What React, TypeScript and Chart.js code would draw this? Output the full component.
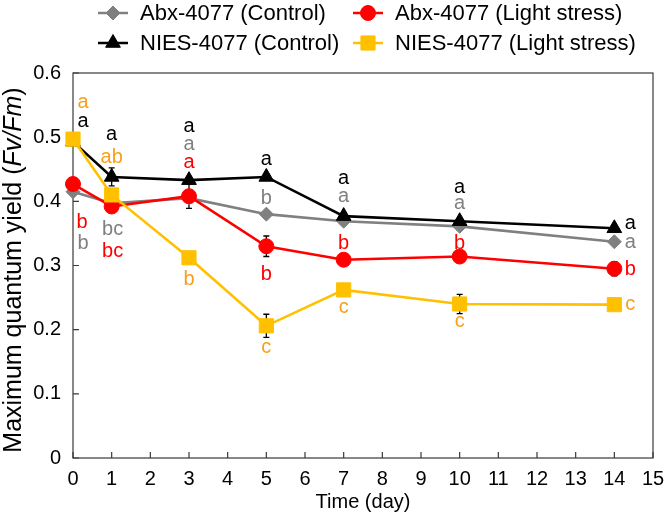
import React, { useEffect, useRef } from "react";
import { Chart, registerables } from "chart.js";

Chart.register(...registerables);

// ---- data ----
const DAYS = [0, 1, 3, 5, 7, 10, 14];
const X_TICKS = [0, 1, 2, 3, 4, 5, 6, 7, 8, 9, 10, 11, 12, 13, 14, 15];
const Y_TICKS = [0, 0.1, 0.2, 0.3, 0.4, 0.5, 0.6];

const ABX_CONTROL = [0.415, 0.397, 0.405, 0.38, 0.369, 0.361, 0.337];
const ABX_LIGHT = [0.427, 0.392, 0.408, 0.33, 0.309, 0.314, 0.295];
const NIES_CONTROL = [0.493, 0.438, 0.433, 0.438, 0.377, 0.369, 0.358];
const NIES_LIGHT = [0.497, 0.41, 0.312, 0.206, 0.262, 0.24, 0.239];

const ABX_CONTROL_ERR = [0.004, 0.005, 0.006, 0.004, 0.004, 0.004, 0.004];
const ABX_LIGHT_ERR = [0.005, 0.006, 0.019, 0.016, 0.005, 0.006, 0.011];
const NIES_CONTROL_ERR = [0.004, 0.014, 0.005, 0.004, 0.004, 0.004, 0.004];
const NIES_LIGHT_ERR = [0.005, 0.008, 0.006, 0.018, 0.005, 0.015, 0.005];

const ABX_CONTROL_LETTERS = ["b", "bc", "a", "b", "a", "a", "a"];
const ABX_LIGHT_LETTERS = ["b", "bc", "a", "b", "b", "b", "b"];
const NIES_CONTROL_LETTERS = ["a", "a", "a", "a", "a", "a", "a"];
const NIES_LIGHT_LETTERS = ["a", "ab", "b", "c", "c", "c", "c"];

const SERIES_NAMES = [
  "Abx-4077 (Control)",
  "Abx-4077 (Light stress)",
  "NIES-4077 (Control)",
  "NIES-4077 (Light stress)",
];

// ---- styling / placement (pixels) ----
const FONT = "'Liberation Sans', Arial, Helvetica, sans-serif";
const TICK_FONT_SIZE = 20;
const LETTER_FONT_SIZE = 20;
const LEGEND_FONT_SIZE = 22;
const X_TITLE_FONT_SIZE = 20;
const Y_TITLE_FONT_SIZE = 25;

const STYLES = [
  { color: "#808080", letterColor: "#808080", point: "rectRot", radius: 7 },
  { color: "#ff0000", letterColor: "#ff0000", point: "circle", radius: 7.5 },
  { color: "#000000", letterColor: "#000000", point: "triangle", radius: 8.5 },
  { color: "#ffc000", letterColor: "#f9a01b", point: "rect", radius: 10 },
];

// letter offsets [dx, dy] relative to each point, in pixels
const LETTER_OFFSETS = [
  [[10, 50], [1, 25], [0, -53], [0, -17], [0, -24], [0, -23], [16, 1]],
  [[9, 37], [1, 43], [0, -33], [0, 27], [0, -18], [0, -15], [16, -1]],
  [[10, -20], [0, -42], [0, -53], [0, -17], [0, -37], [0, -33], [16, -4]],
  [[10, -36], [0, -39], [0, 20], [0, 22], [0, 18], [0, 18], [16, 0]],
];

const VALUES = [ABX_CONTROL, ABX_LIGHT, NIES_CONTROL, NIES_LIGHT];
const ERRORS = [ABX_CONTROL_ERR, ABX_LIGHT_ERR, NIES_CONTROL_ERR, NIES_LIGHT_ERR];
const LETTERS = [ABX_CONTROL_LETTERS, ABX_LIGHT_LETTERS, NIES_CONTROL_LETTERS, NIES_LIGHT_LETTERS];
const DRAW_ORDER = [4, 3, 2, 1];

function drawMarker(ctx: CanvasRenderingContext2D, style: string, x: number, y: number, r: number, color: string) {
  ctx.save();
  ctx.fillStyle = color;
  ctx.strokeStyle = color;
  ctx.lineWidth = 1;
  ctx.beginPath();
  if (style === "circle") {
    ctx.arc(x, y, r, 0, Math.PI * 2);
  } else if (style === "rect") {
    const s = Math.SQRT1_2 * r;
    ctx.rect(x - s, y - s, 2 * s, 2 * s);
  } else if (style === "rectRot") {
    ctx.moveTo(x - r, y);
    ctx.lineTo(x, y - r);
    ctx.lineTo(x + r, y);
    ctx.lineTo(x, y + r);
    ctx.closePath();
  } else if (style === "triangle") {
    let rad = 0;
    ctx.moveTo(x + Math.sin(rad) * r, y - Math.cos(rad) * r);
    rad += (2 * Math.PI) / 3;
    ctx.lineTo(x + Math.sin(rad) * r, y - Math.cos(rad) * r);
    rad += (2 * Math.PI) / 3;
    ctx.lineTo(x + Math.sin(rad) * r, y - Math.cos(rad) * r);
    ctx.closePath();
  }
  ctx.fill();
  ctx.stroke();
  ctx.restore();
}

const overlayPlugin = {
  id: "overlay",
  beforeDatasetsDraw(chart: any) {
    const { ctx, chartArea, scales } = chart;
    const xs = scales.x;
    const ys = scales.y;
    ctx.save();
    // frame
    ctx.strokeStyle = "#3a3a3a";
    ctx.lineWidth = 1.2;
    ctx.strokeRect(chartArea.left, chartArea.top, chartArea.right - chartArea.left, chartArea.bottom - chartArea.top);
    // inward ticks
    ctx.beginPath();
    X_TICKS.forEach((t) => {
      const px = xs.getPixelForValue(t);
      ctx.moveTo(px, chartArea.bottom);
      ctx.lineTo(px, chartArea.bottom - 6);
    });
    Y_TICKS.forEach((t) => {
      const py = ys.getPixelForValue(t);
      ctx.moveTo(chartArea.left, py);
      ctx.lineTo(chartArea.left + 6, py);
    });
    ctx.stroke();
    // error bars
    ctx.strokeStyle = "#000";
    ctx.lineWidth = 1.3;
    VALUES.forEach((vals, si) => {
      vals.forEach((v, i) => {
        const e = ERRORS[si][i];
        const px = xs.getPixelForValue(DAYS[i]);
        const y1 = ys.getPixelForValue(v - e);
        const y2 = ys.getPixelForValue(v + e);
        ctx.beginPath();
        ctx.moveTo(px, y1);
        ctx.lineTo(px, y2);
        ctx.moveTo(px - 3, y1);
        ctx.lineTo(px + 3, y1);
        ctx.moveTo(px - 3, y2);
        ctx.lineTo(px + 3, y2);
        ctx.stroke();
      });
    });
    ctx.restore();
  },
  afterDraw(chart: any) {
    const { ctx, chartArea, scales } = chart;
    const xs = scales.x;
    const ys = scales.y;
    ctx.save();
    // significance letters
    ctx.font = `${LETTER_FONT_SIZE}px ${FONT}`;
    ctx.textAlign = "center";
    ctx.textBaseline = "alphabetic";
    LETTERS.forEach((letters, si) => {
      ctx.fillStyle = STYLES[si].letterColor;
      letters.forEach((txt, i) => {
        const px = xs.getPixelForValue(DAYS[i]) + LETTER_OFFSETS[si][i][0];
        const py = ys.getPixelForValue(VALUES[si][i]) + LETTER_OFFSETS[si][i][1];
        const k = /[bdfhklt]/.test(txt) ? 0.36 : 0.26;
        ctx.fillText(txt, px, py + k * LETTER_FONT_SIZE);
      });
    });

    // legend
    ctx.font = `${LEGEND_FONT_SIZE}px ${FONT}`;
    ctx.textAlign = "left";
    ctx.textBaseline = "middle";
    const cols = [98, 353];
    const rows = [13, 43];
    SERIES_NAMES.forEach((name, si) => {
      const cx = cols[si % 2];
      const cy = rows[Math.floor(si / 2)];
      const st = STYLES[si];
      ctx.strokeStyle = st.color;
      ctx.lineWidth = 2.5;
      ctx.beginPath();
      ctx.moveTo(cx, cy);
      ctx.lineTo(cx + 30, cy);
      ctx.stroke();
      drawMarker(ctx, st.point, cx + 15, cy, st.radius, st.color);
      ctx.fillStyle = "#000";
      ctx.fillText(name, cx + 42, cy + 1);
    });

    // x title
    ctx.font = `${X_TITLE_FONT_SIZE}px ${FONT}`;
    ctx.textAlign = "center";
    ctx.textBaseline = "middle";
    ctx.fillStyle = "#000";
    ctx.fillText("Time (day)", (chartArea.left + chartArea.right) / 2, 502);

    // y title with italic part
    const parts = [
      { t: "Maximum quantum yield (", italic: false },
      { t: "Fv/Fm", italic: true },
      { t: ")", italic: false },
    ];
    const normal = `${Y_TITLE_FONT_SIZE}px ${FONT}`;
    const ital = `italic ${Y_TITLE_FONT_SIZE}px ${FONT}`;
    let total = 0;
    const widths = parts.map((p) => {
      ctx.font = p.italic ? ital : normal;
      const w = ctx.measureText(p.t).width;
      total += w;
      return w;
    });
    ctx.translate(21, 270);
    ctx.rotate(-Math.PI / 2);
    ctx.textAlign = "left";
    ctx.textBaseline = "alphabetic";
    let x0 = -total / 2;
    parts.forEach((p, i) => {
      ctx.font = p.italic ? ital : normal;
      ctx.fillText(p.t, x0, 0);
      x0 += widths[i];
    });
    ctx.restore();
  },
};

export default function App() {
  const ref = useRef<HTMLCanvasElement>(null);
  useEffect(() => {
    document.body.style.margin = "0";
    Chart.defaults.font.family = FONT;
    const datasets = VALUES.map((vals, si) => ({
      label: SERIES_NAMES[si],
      data: DAYS.map((d, i) => ({ x: d, y: vals[i] })),
      borderColor: STYLES[si].color,
      backgroundColor: STYLES[si].color,
      pointBackgroundColor: STYLES[si].color,
      pointBorderColor: STYLES[si].color,
      pointStyle: STYLES[si].point,
      pointRadius: STYLES[si].radius,
      pointBorderWidth: 1,
      borderWidth: 2.6,
      tension: 0,
      clip: false,
      order: DRAW_ORDER[si],
    }));
    const fixPad = (scale: any) => {
      scale.paddingLeft = 0;
      scale.paddingRight = 0;
      scale.paddingTop = 0;
      scale.paddingBottom = 0;
    };
    const chart = new Chart(ref.current as HTMLCanvasElement, {
      type: "line",
      data: { datasets: datasets as any },
      options: {
        responsive: false,
        animation: false,
        devicePixelRatio: 1,
        layout: { padding: { top: 73, right: 13, left: 0, bottom: 0 } },
        plugins: { legend: { display: false }, tooltip: { enabled: false } },
        scales: {
          x: {
            type: "linear",
            min: 0,
            max: 15,
            grid: { display: false, drawTicks: false },
            border: { display: false },
            ticks: {
              stepSize: 1,
              padding: 9,
              maxRotation: 0,
              autoSkip: false,
              color: "#000",
              font: { size: TICK_FONT_SIZE, family: FONT },
            },
            afterFit: (scale: any) => {
              scale.height = 61;
              fixPad(scale);
            },
          },
          y: {
            min: 0,
            max: 0.6,
            grid: { display: false, drawTicks: false },
            border: { display: false },
            ticks: {
              stepSize: 0.1,
              padding: 12,
              color: "#000",
              font: { size: TICK_FONT_SIZE, family: FONT },
            },
            afterFit: (scale: any) => {
              scale.width = 73;
              fixPad(scale);
            },
          },
        },
      } as any,
      plugins: [overlayPlugin],
    });
    return () => chart.destroy();
  }, []);
  return (
    <div style={{ width: 666, height: 519 }}>
      <canvas ref={ref} width={666} height={519} style={{ display: "block" }} />
    </div>
  );
}
